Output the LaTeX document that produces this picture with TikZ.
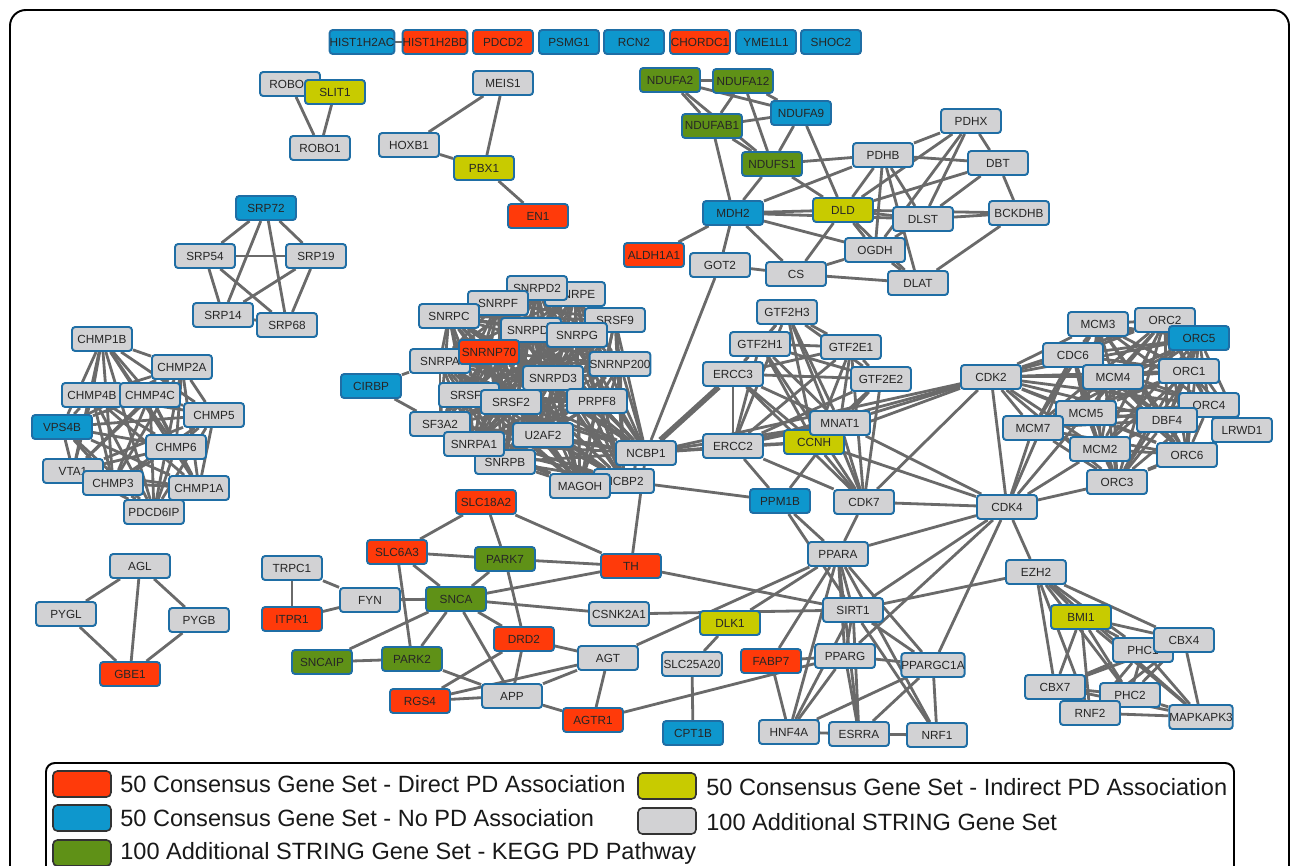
\documentclass[tikz,border=0pt]{standalone}
\usepackage{fontspec}
\setmainfont{Liberation Sans}
\usetikzlibrary{backgrounds}
\definecolor{ngrayc}{HTML}{D2D2D4}
\definecolor{nredc}{HTML}{FF3A0A}
\definecolor{nbluec}{HTML}{0E97CD}
\definecolor{ngreenc}{HTML}{5F9117}
\definecolor{nyellowc}{HTML}{C8CB00}
\definecolor{nborder}{HTML}{1F6EA5}
\definecolor{edgec}{HTML}{6A6A6A}
\newcommand\genefont{\fontsize{6.7pt}{7.5pt}\selectfont}
\newcommand\legfont{\fontsize{13.4pt}{15pt}\selectfont}
\newcommand\mkclique[1]{\foreach \a [count=\i] in {#1}{\foreach \b [count=\j] in {#1}{\ifnum\j>\i\relax \draw[edge] (\a) -- (\b);\fi}}}
\tikzset{
  gene/.style={draw=nborder, line width=1.1pt, rounded corners=1.8pt, minimum width=1.2cm, minimum height=0.48cm, inner sep=0pt, font=\genefont, text=black!85},
  ngray/.style={gene, fill=ngrayc},
  nred/.style={gene, fill=nredc},
  nblue/.style={gene, fill=nbluec},
  ngreen/.style={gene, fill=ngreenc},
  nyellow/.style={gene, fill=nyellowc},
  edge/.style={draw=edgec, line width=1.6pt},
  thickedge/.style={draw=edgec, line width=3.2pt},
  legsw/.style={draw=black!80, line width=0.9pt, rounded corners=2.5pt, minimum width=1.16cm, minimum height=0.52cm, inner sep=0pt},
  legtext/.style={anchor=west, font=\legfont, inner sep=0pt, text=black!90},
}
\begin{document}
\begin{tikzpicture}[x=0.02cm, y=-0.02cm]
\useasboundingbox (0,0) rectangle (1296,866);
\draw[line width=1.1pt, rounded corners=9pt] (10,10) rectangle (1289,900);
% top row
\node[nblue] (HIST1H2AC) at (362,42) {HIST1H2AC};
\node[nred] (HIST1H2BD) at (435,42) {HIST1H2BD};
\node[nred] (PDCD2) at (503,42) {PDCD2};
\node[nblue] (PSMG1) at (569,42) {PSMG1};
\node[nblue] (RCN2) at (634,42) {RCN2};
\node[nred] (CHORDC1) at (700,42) {CHORDC1};
\node[nblue] (YME1L1) at (766,42) {YME1L1};
\node[nblue] (SHOC2) at (831,42) {SHOC2};
% robo
\node[ngray] (ROBO2) at (290,84) {ROBO2};
\node[nyellow] (SLIT1) at (335,92) {SLIT1};
\node[ngray] (ROBO1) at (320,148) {ROBO1};
% meis
\node[ngray] (MEIS1) at (503,83) {MEIS1};
\node[ngray] (HOXB1) at (409,145) {HOXB1};
\node[nyellow] (PBX1) at (484,168) {PBX1};
\node[nred] (EN1) at (538,216) {EN1};
% nduf
\node[ngreen] (NDUFA2) at (670,80) {NDUFA2};
\node[ngreen] (NDUFA12) at (743,81) {NDUFA12};
\node[nblue] (NDUFA9) at (801,113) {NDUFA9};
\node[ngreen] (NDUFAB1) at (712,126) {NDUFAB1};
\node[ngreen] (NDUFS1) at (772,164) {NDUFS1};
\node[ngray] (PDHX) at (971,121) {PDHX};
\node[ngray] (PDHB) at (883,155) {PDHB};
\node[ngray] (DBT) at (998,163) {DBT};
\node[nblue] (MDH2) at (733,213) {MDH2};
\node[nyellow] (DLD) at (843,210) {DLD};
\node[ngray] (DLST) at (923,219) {DLST};
\node[ngray] (BCKDHB) at (1019,213) {BCKDHB};
\node[ngray] (OGDH) at (875,250) {OGDH};
\node[nred] (ALDH1A1) at (654,255) {ALDH1A1};
\node[ngray] (GOT2) at (720,265) {GOT2};
\node[ngray] (CS) at (796,274) {CS};
\node[ngray] (DLAT) at (918,283) {DLAT};
% srp
\node[nblue] (SRP72) at (266,208) {SRP72};
\node[ngray] (SRP54) at (205,256) {SRP54};
\node[ngray] (SRP19) at (316,256) {SRP19};
\node[ngray] (SRP14) at (223,315) {SRP14};
\node[ngray] (SRP68) at (287,325) {SRP68};
% chmp
\node[ngray] (CHMP1B) at (102,339) {CHMP1B};
\node[ngray] (CHMP2A) at (182,367) {CHMP2A};
\node[ngray] (CHMP4B) at (92,395) {CHMP4B};
\node[ngray] (CHMP4C) at (150,395) {CHMP4C};
\node[ngray] (CHMP5) at (214,415) {CHMP5};
\node[nblue] (VPS4B) at (62,427) {VPS4B};
\node[ngray] (CHMP6) at (176,447) {CHMP6};
\node[ngray] (VTA1) at (73,471) {VTA1};
\node[ngray] (CHMP3) at (113,483) {CHMP3};
\node[ngray] (CHMP1A) at (199,488) {CHMP1A};
\node[ngray] (PDCD6IP) at (154,512) {PDCD6IP};
% snrp
\node[ngray] (SNRPE) at (575,294) {SNRPE};
\node[ngray] (SNRPD2) at (537,288) {SNRPD2};
\node[ngray] (SNRPF) at (498,303) {SNRPF};
\node[ngray] (SNRPC) at (449,316) {SNRPC};
\node[ngray] (SRSF9) at (615,320) {SRSF9};
\node[ngray] (SNRPD1) at (531,330) {SNRPD1};
\node[ngray] (SNRPG) at (577,335) {SNRPG};
\node[ngray] (SNRPA) at (440,361) {SNRPA};
\node[nred] (SNRNP70) at (489,352) {SNRNP70};
\node[ngray] (SNRNP200) at (620,364) {SNRNP200};
\node[nblue] (CIRBP) at (371,386) {CIRBP};
\node[ngray] (SNRPD3) at (553,378) {SNRPD3};
\node[ngray] (SRSF1) at (469,395) {SRSF1};
\node[ngray] (SRSF2) at (511,402) {SRSF2};
\node[ngray] (PRPF8) at (597,401) {PRPF8};
\node[ngray] (SF3A2) at (440,424) {SF3A2};
\node[ngray] (U2AF2) at (543,435) {U2AF2};
\node[ngray] (SNRPB) at (505,462) {SNRPB};
\node[ngray] (SNRPA1) at (474,444) {SNRPA1};
\node[ngray] (NCBP1) at (646,453) {NCBP1};
\node[ngray] (NCBP2) at (624,481) {NCBP2};
\node[ngray] (MAGOH) at (580,486) {MAGOH};
% gtf
\node[ngray] (GTF2H3) at (787,312) {GTF2H3};
\node[ngray] (GTF2H1) at (760,344) {GTF2H1};
\node[ngray] (GTF2E1) at (851,347) {GTF2E1};
\node[ngray] (ERCC3) at (733,374) {ERCC3};
\node[ngray] (GTF2E2) at (881,379) {GTF2E2};
\node[nyellow] (CCNH) at (814,442) {CCNH};
\node[ngray] (MNAT1) at (840,423) {MNAT1};
\node[ngray] (ERCC2) at (733,446) {ERCC2};
\node[nblue] (PPM1B) at (780,501) {PPM1B};
\node[ngray] (CDK7) at (864,502) {CDK7};
% mcm
\node[ngray] (MCM3) at (1098,324) {MCM3};
\node[ngray] (ORC2) at (1165,320) {ORC2};
\node[nblue] (ORC5) at (1199,338) {ORC5};
\node[ngray] (CDC6) at (1073,355) {CDC6};
\node[ngray] (CDK2) at (991,377) {CDK2};
\node[ngray] (MCM4) at (1113,377) {MCM4};
\node[ngray] (ORC1) at (1189,371) {ORC1};
\node[ngray] (ORC4) at (1209,405) {ORC4};
\node[ngray] (MCM5) at (1086,413) {MCM5};
\node[ngray] (DBF4) at (1167,420) {DBF4};
\node[ngray] (MCM7) at (1033,428) {MCM7};
\node[ngray] (LRWD1) at (1242,430) {LRWD1};
\node[ngray] (MCM2) at (1100,449) {MCM2};
\node[ngray] (ORC6) at (1187,455) {ORC6};
\node[ngray] (ORC3) at (1117,482) {ORC3};
\node[ngray] (CDK4) at (1007,507) {CDK4};
% pd
\node[nred] (SLC18A2) at (486,502) {SLC18A2};
\node[nred] (SLC6A3) at (397,552) {SLC6A3};
\node[ngreen] (PARK7) at (505,559) {PARK7};
\node[nred] (TH) at (631,566) {TH};
\node[ngray] (TRPC1) at (292,568) {TRPC1};
\node[ngray] (FYN) at (370,600) {FYN};
\node[ngreen] (SNCA) at (456,599) {SNCA};
\node[ngray] (CSNK2A1) at (619,614) {CSNK2A1};
\node[nred] (ITPR1) at (292,619) {ITPR1};
\node[nred] (DRD2) at (524,639) {DRD2};
\node[ngray] (AGT) at (608,658) {AGT};
\node[ngreen] (SNCAIP) at (322,662) {SNCAIP};
\node[ngreen] (PARK2) at (412,659) {PARK2};
\node[nred] (RGS4) at (420,701) {RGS4};
\node[ngray] (APP) at (512,696) {APP};
\node[nred] (AGTR1) at (593,720) {AGTR1};
% ppar
\node[ngray] (PPARA) at (838,554) {PPARA};
\node[ngray] (SIRT1) at (853,610) {SIRT1};
\node[nyellow] (DLK1) at (730,623) {DLK1};
\node[ngray] (SLC25A20) at (692,664) {SLC25A20};
\node[nred] (FABP7) at (771,661) {FABP7};
\node[ngray] (PPARG) at (845,656) {PPARG};
\node[ngray] (PPARGC1A) at (933,665) {PPARGC1A};
\node[nblue] (CPT1B) at (693,733) {CPT1B};
\node[ngray] (HNF4A) at (789,732) {HNF4A};
\node[ngray] (ESRRA) at (859,734) {ESRRA};
\node[ngray] (NRF1) at (937,735) {NRF1};
% pcg
\node[ngray] (EZH2) at (1036,572) {EZH2};
\node[nyellow] (BMI1) at (1081,617) {BMI1};
\node[ngray] (PHC1) at (1143,650) {PHC1};
\node[ngray] (CBX4) at (1184,640) {CBX4};
\node[ngray] (CBX7) at (1055,687) {CBX7};
\node[ngray] (PHC2) at (1130,695) {PHC2};
\node[ngray] (RNF2) at (1090,713) {RNF2};
\node[ngray] (MAPKAPK3) at (1201,717) {MAPKAPK3};
% glycogen
\node[ngray] (AGL) at (140,566) {AGL};
\node[ngray] (PYGL) at (66,614) {PYGL};
\node[ngray] (PYGB) at (199,620) {PYGB};
\node[nred] (GBE1) at (130,674) {GBE1};

\begin{pgfonlayer}{background}
\foreach \p/\q in {HIST1H2AC/HIST1H2BD, ROBO2/ROBO1, SLIT1/ROBO1, ROBO2/SLIT1,
  MEIS1/HOXB1, MEIS1/PBX1, HOXB1/PBX1, PBX1/EN1,
  NDUFA2/NDUFA12, NDUFA2/NDUFA9, NDUFA2/NDUFAB1, NDUFA2/NDUFS1, NDUFA12/NDUFAB1, NDUFA12/NDUFA9,
  NDUFA12/NDUFS1, NDUFAB1/NDUFA9, NDUFAB1/NDUFS1, NDUFAB1/MDH2, NDUFA9/NDUFS1, NDUFA9/DLD,
  NDUFS1/PDHB, NDUFS1/MDH2, NDUFS1/DLD,
  MDH2/PDHB, MDH2/DLD, MDH2/DLST, MDH2/OGDH, MDH2/CS, MDH2/GOT2, MDH2/ALDH1A1,
  DLD/DLST, DLD/BCKDHB, DLST/BCKDHB, PDHX/PDHB, PDHX/DLD, PDHX/DLST, PDHX/DBT, PDHX/OGDH,
  PDHB/DBT, PDHB/DLD, PDHB/OGDH, PDHB/DLST, PDHB/DLAT, DBT/DLD, DBT/DLST, DBT/BCKDHB,
  DLD/OGDH, DLD/CS, DLD/DLAT, DLST/OGDH, OGDH/CS, OGDH/DLAT, CS/GOT2, CS/DLAT, BCKDHB/DLAT,
  GOT2/NCBP1, CIRBP/SNRPA, CIRBP/SF3A2,
  NCBP1/ERCC2, NCBP1/CCNH, NCBP1/MNAT1, NCBP1/CDK2, NCBP1/TH, NCBP2/PPM1B,
  ERCC2/PPM1B, PPM1B/MNAT1, PPM1B/PPARA, PPM1B/SIRT1, CDK7/PPARA, CDK7/CDK4,
  CDK2/MNAT1, CDK2/CCNH, CDK2/ERCC2, CDK2/CDK7, CDK2/CDK4, CDK4/CCNH, CDK4/MNAT1,
  LRWD1/ORC1, LRWD1/ORC2, LRWD1/ORC3, LRWD1/ORC4, LRWD1/ORC5, LRWD1/ORC6,
  CDK4/MCM7, CDK4/MCM2, CDK4/MCM5, CDK4/CDC6, CDK4/ORC3,
  CDK4/PPARA, CDK4/SIRT1, CDK4/EZH2, CDK4/PPARG, CDK4/PPARGC1A,
  SLC18A2/SLC6A3, SLC18A2/PARK7, SLC18A2/TH, SLC6A3/PARK7, SLC6A3/SNCA, SLC6A3/PARK2,
  PARK7/TH, PARK7/SNCA, PARK7/DRD2, TRPC1/ITPR1, TRPC1/FYN, ITPR1/FYN, FYN/SNCA,
  SNCA/TH, SNCA/CSNK2A1, SNCA/DRD2, SNCA/PARK2, SNCA/SNCAIP, SNCA/APP, SNCAIP/PARK2, PARK2/APP,
  DRD2/RGS4, DRD2/APP, DRD2/AGT, AGT/RGS4, AGT/APP, AGT/AGTR1, RGS4/APP, APP/AGTR1,
  TH/SIRT1, CSNK2A1/SIRT1, AGT/PPARA, DLK1/PPARA, DLK1/SLC25A20, SLC25A20/CPT1B, AGTR1/PPARG,
  PPARA/SIRT1, PPARA/FABP7, PPARA/PPARG, PPARA/PPARGC1A, PPARA/HNF4A, PPARA/ESRRA, PPARA/NRF1,
  SIRT1/PPARG, SIRT1/PPARGC1A, SIRT1/HNF4A, SIRT1/ESRRA, SIRT1/NRF1, SIRT1/EZH2,
  FABP7/PPARG, FABP7/HNF4A, PPARG/PPARGC1A, PPARG/HNF4A, PPARG/ESRRA, PPARGC1A/HNF4A,
  PPARGC1A/ESRRA, PPARGC1A/NRF1, HNF4A/ESRRA, ESRRA/NRF1,
  AGL/PYGL, AGL/PYGB, AGL/GBE1, PYGL/GBE1, PYGB/GBE1}
  {\draw[edge] (\p) -- (\q);}
\draw[thickedge] (NCBP1) -- (ERCC3);
\mkclique{SRP72,SRP54,SRP19,SRP14,SRP68}
\mkclique{CHMP1B,CHMP2A,CHMP4B,CHMP4C,CHMP5,VPS4B,CHMP6,VTA1,CHMP3,CHMP1A,PDCD6IP}
\mkclique{SNRPE,SNRPD2,SNRPF,SNRPC,SRSF9,SNRPD1,SNRPG,SNRPA,SNRNP70,SNRNP200,SNRPD3,SRSF1,SRSF2,PRPF8,SF3A2,U2AF2,SNRPB,SNRPA1,NCBP1,NCBP2,MAGOH}
\mkclique{GTF2H3,GTF2H1,GTF2E1,ERCC3,GTF2E2,MNAT1,ERCC2,CCNH,CDK7}
\mkclique{MCM3,ORC2,ORC5,CDC6,MCM4,ORC1,ORC4,MCM5,DBF4,MCM7,MCM2,ORC6,ORC3,CDK2}
\mkclique{EZH2,BMI1,PHC1,CBX4,CBX7,PHC2,RNF2,MAPKAPK3}
\end{pgfonlayer}

% legend
\draw[line width=1.1pt, rounded corners=5pt, fill=white] (46,763) rectangle (1234,900);
\node[legsw, fill=nredc] (swR) at (82,784) {};
\node[legtext] (lgR) at (120,784) {50 Consensus Gene Set - Direct PD Association};
\node[legsw, fill=nyellowc] (swY) at (667,786) {};
\node[legtext] (lgY) at (706,787) {50 Consensus Gene Set - Indirect PD Association};
\node[legsw, fill=nbluec] (swB) at (82,818) {};
\node[legtext] (lgB) at (120,818) {50 Consensus Gene Set - No PD Association};
\node[legsw, fill=ngrayc] (swG) at (667,821) {};
\node[legtext] (lgG) at (706,822) {100 Additional STRING Gene Set};
\node[legsw, fill=ngreenc] (swK) at (82,853) {};
\node[legtext] (lgK) at (120,853) {100 Additional STRING Gene Set - KEGG PD Pathway};
\end{tikzpicture}
\end{document}
